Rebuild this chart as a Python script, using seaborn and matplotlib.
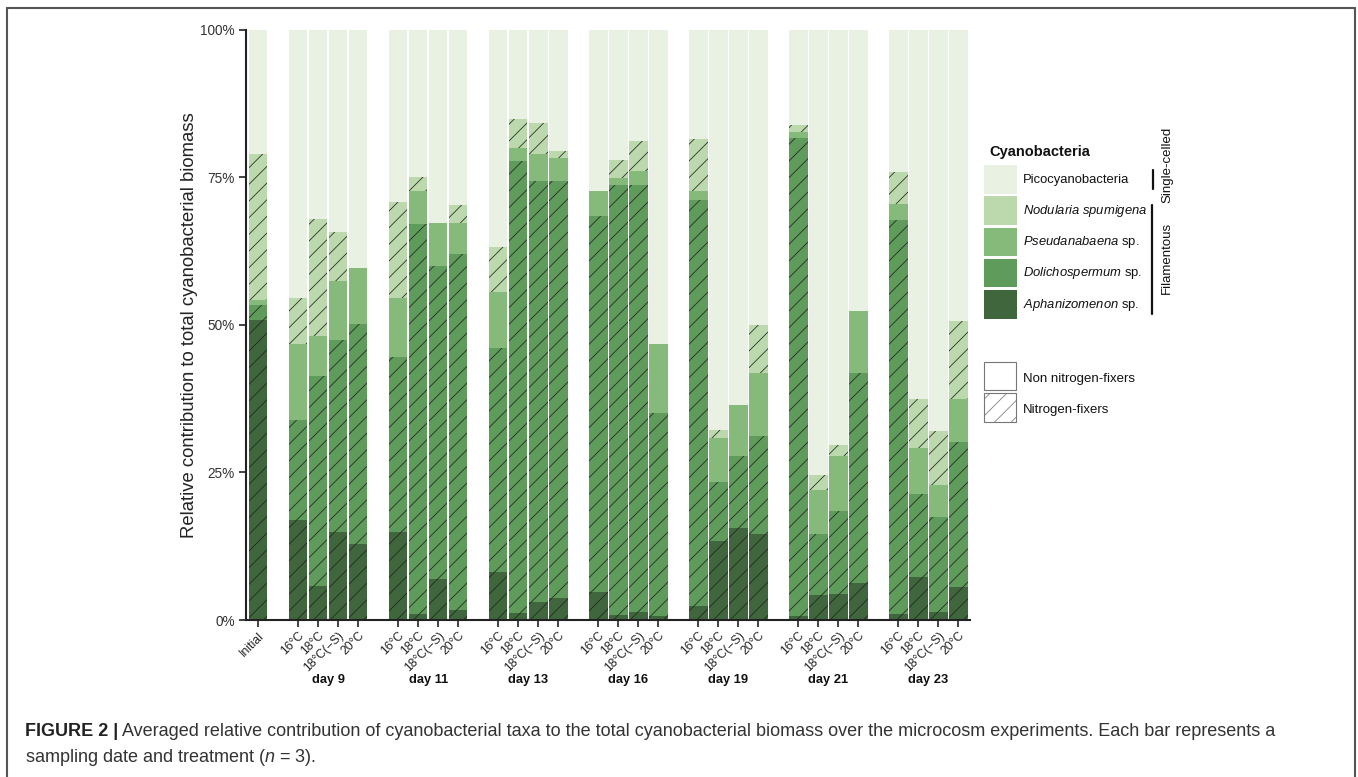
import numpy as np
import pandas as pd
import matplotlib.pyplot as plt
import matplotlib.transforms as mtransforms
from matplotlib.patches import Rectangle
from matplotlib.lines import Line2D
from matplotlib import font_manager
import seaborn as sns

# categories
days = ['day 9', 'day 11', 'day 13', 'day 16', 'day 19', 'day 21', 'day 23']
treatments = ['16°C', '18°C', '18°C(\u2212S)', '20°C']
bar_labels = ['Initial'] + treatments * len(days)

# share of each taxon (%), one value per bar: Initial, then 4 treatments for each day
aphanizomenon = [50.8,
                 17.0, 5.7, 14.9, 12.9,
                 14.9, 1.1, 6.9, 1.7,
                 8.2, 1.2, 3.1, 3.8,
                 4.8, 0.8, 1.3, 0.7,
                 2.3, 13.3, 15.5, 14.6,
                 0.7, 4.3, 4.4, 6.3,
                 1.0, 7.2, 1.3, 5.6]
dolichospermum = [2.6,
                  16.9, 35.6, 32.6, 37.2,
                  29.7, 66.0, 53.0, 60.3,
                  37.9, 76.6, 71.2, 70.5,
                  63.7, 72.8, 72.4, 34.4,
                  68.9, 10.1, 12.3, 16.5,
                  81.0, 10.3, 14.1, 35.6,
                  66.8, 14.2, 16.2, 24.5]
pseudanabaena = [0.8,
                 12.8, 6.8, 9.9, 9.5,
                 9.9, 5.5, 7.4, 5.2,
                 9.4, 2.1, 4.7, 4.0,
                 4.1, 1.3, 2.4, 11.7,
                 1.5, 7.5, 8.6, 10.8,
                 1.0, 7.4, 9.2, 10.5,
                 2.6, 7.7, 5.3, 7.4]
nodularia = [24.7,
             7.8, 19.8, 8.3, 0.0,
             16.3, 2.4, 0.0, 3.0,
             7.7, 5.0, 5.1, 1.1,
             0.0, 3.0, 5.0, 0.0,
             8.8, 1.2, 0.0, 8.1,
             1.1, 2.5, 1.9, 0.0,
             5.4, 8.3, 9.2, 13.2]
picocyanobacteria = [21.1,
                     45.5, 32.1, 34.3, 40.4,
                     29.2, 25.0, 32.7, 29.8,
                     36.8, 15.1, 15.9, 20.6,
                     27.4, 22.1, 18.9, 53.2,
                     18.5, 67.9, 63.6, 50.0,
                     16.2, 75.5, 70.4, 47.6,
                     24.2, 62.6, 68.0, 49.3]

# bottom to top stacking order
stack_order = ['Aphanizomenon sp.', 'Dolichospermum sp.', 'Pseudanabaena sp.',
               'Nodularia spumigena', 'Picocyanobacteria']
colors = {'Picocyanobacteria': '#e9f2e2',
          'Nodularia spumigena': '#bcd9ad',
          'Pseudanabaena sp.': '#86ba7b',
          'Dolichospermum sp.': '#5f9b5b',
          'Aphanizomenon sp.': '#3f663c'}
n_fixers = ['Nodularia spumigena', 'Dolichospermum sp.', 'Aphanizomenon sp.']

# bar positions: Initial, then groups of 4 with a gap
pos = [0] + [2 + 5 * g + j for g in range(len(days)) for j in range(4)]

df = pd.DataFrame({'pos': pos,
                   'Aphanizomenon sp.': aphanizomenon,
                   'Dolichospermum sp.': dolichospermum,
                   'Pseudanabaena sp.': pseudanabaena,
                   'Nodularia spumigena': nodularia,
                   'Picocyanobacteria': picocyanobacteria})
cum = df[stack_order].cumsum(axis=1)

sns.set_theme(style='ticks')
narrow = 'Liberation Sans Narrow'
names = {f.name for f in font_manager.fontManager.ttflist}
if narrow not in names:
    narrow = 'Liberation Sans'
plt.rcParams['font.family'] = ['Liberation Sans', 'DejaVu Sans']
plt.rcParams['mathtext.fontset'] = 'custom'
plt.rcParams['mathtext.rm'] = 'Liberation Sans'
plt.rcParams['mathtext.it'] = 'Liberation Sans:italic'
plt.rcParams['hatch.linewidth'] = 0.55

W, H = 1358, 777
fig = plt.figure(figsize=(W / 100, H / 100), dpi=100)
fig.patch.set_facecolor('white')
ax = fig.add_axes([246 / W, 1 - 620 / H, 723.5 / W, 590.5 / H])

# draw cumulative layers from top to bottom so they overlap into stacks
for taxon in reversed(stack_order):
    sns.barplot(x=df['pos'], y=cum[taxon], native_scale=True, orient='x',
                color=colors[taxon], saturation=1, width=0.93,
                errorbar=None, edgecolor='#1e261c',
                hatch='//' if taxon in n_fixers else None,
                linewidth=0, ax=ax)

ax.set(xlabel='', ylabel='')
ax.set_xlim(-0.6, 35.55)
ax.set_ylim(0, 100)
ax.set_yticks([0, 25, 50, 75, 100])
ax.set_yticklabels(['0%', '25%', '50%', '75%', '100%'], fontsize=9.8, color='#333333')
ax.set_xticks(pos)
ax.set_xticklabels(bar_labels, rotation=45, ha='right', rotation_mode='anchor',
                   fontsize=8.8, color='#222222')
ax.tick_params(axis='both', length=5, width=1.2, color='#222222', pad=3)
ax.tick_params(axis='x', pad=2)
sns.despine(ax=ax)
for s in ['left', 'bottom']:
    ax.spines[s].set_linewidth(1.5)
    ax.spines[s].set_color('#222222')
ax.set_facecolor('white')

# day labels under each group
day_tr = mtransforms.blended_transform_factory(ax.transData, fig.transFigure)
for g, d in enumerate(days):
    ax.text(2 + 5 * g + 1.5, 1 - 680 / H, d, transform=day_tr,
            ha='center', va='center', fontsize=9.3, fontweight='bold', color='#111111')

fig.text(190 / W, 1 - 325 / H, 'Relative contribution to total cyanobacterial biomass',
         rotation=90, ha='center', va='center', fontsize=13.3, color='#222222')

# legend (drawn by hand in figure pixels)
def box(x0, y0, x1, y1, **kw):
    fig.add_artist(Rectangle((x0 / W, 1 - y1 / H), (x1 - x0) / W, (y1 - y0) / H,
                             transform=fig.transFigure, **kw))

fig.text(989 / W, 1 - 152 / H, 'Cyanobacteria', ha='left', va='center',
         fontsize=10.5, fontweight='bold', color='#111111')
leg_labels = {'Picocyanobacteria': 'Picocyanobacteria',
              'Nodularia spumigena': r'$\mathit{Nodularia\ spumigena}$',
              'Pseudanabaena sp.': r'$\mathit{Pseudanabaena}$ sp.',
              'Dolichospermum sp.': r'$\mathit{Dolichospermum}$ sp.',
              'Aphanizomenon sp.': r'$\mathit{Aphanizomenon}$ sp.'}
for i, taxon in enumerate(reversed(stack_order)):
    y0 = 165 + i * 31.3
    box(984, y0, 1017, y0 + 28.5, facecolor=colors[taxon], edgecolor='none')
    fig.text(1023 / W, 1 - (y0 + 14.5) / H, leg_labels[taxon], ha='left', va='center',
             fontsize=9.4, color='#111111')

fig.add_artist(Line2D([1153 / W, 1153 / W], [1 - 170 / H, 1 - 189 / H], color='#111111', lw=1.6))
fig.add_artist(Line2D([1152 / W, 1152 / W], [1 - 205 / H, 1 - 314 / H], color='#111111', lw=1.6))
fig.text(1167 / W, 1 - 165 / H, 'Single-celled', rotation=90, ha='center', va='center',
         fontsize=9.5, color='#111111')
fig.text(1167 / W, 1 - 258 / H, 'Filamentous', rotation=90, ha='center', va='center',
         fontsize=9.5, color='#111111')

box(984, 362, 1016, 390, facecolor='white', edgecolor='#777777', lw=0.8)
box(984, 393, 1016, 422, facecolor='white', edgecolor='#777777', lw=0.8, hatch='//')
fig.text(1023 / W, 1 - 379 / H, 'Non nitrogen-fixers', ha='left', va='center',
         fontsize=9.5, color='#111111')
fig.text(1023 / W, 1 - 410 / H, 'Nitrogen-fixers', ha='left', va='center',
         fontsize=9.5, color='#111111')

# page frame
for xs, ys in [([7, 1355], [8, 8]), ([7, 7], [8, 777]), ([1355, 1355], [8, 777])]:
    fig.add_artist(Line2D([x / W for x in xs], [1 - y / H for y in ys],
                          color='#555555', lw=1.5))

# caption
renderer = fig.canvas.get_renderer()
t = fig.text(25 / W, 1 - 732 / H, 'FIGURE 2 |', ha='left', va='center', fontsize=13,
             fontweight='bold', family=narrow, color='#222222')
bb = t.get_window_extent(renderer)
fig.text((bb.x1 + 4) / W, 1 - 732 / H,
         'Averaged relative contribution of cyanobacterial taxa to the total cyanobacterial '
         'biomass over the microcosm experiments. Each bar represents a',
         ha='left', va='center', fontsize=13, family=narrow, color='#333333')
fig.text(25 / W, 1 - 757 / H, r'sampling date and treatment ($\mathit{n}$ = 3).',
         ha='left', va='center', fontsize=13, family=narrow, color='#333333')

fig.savefig('out.png', dpi=100)
